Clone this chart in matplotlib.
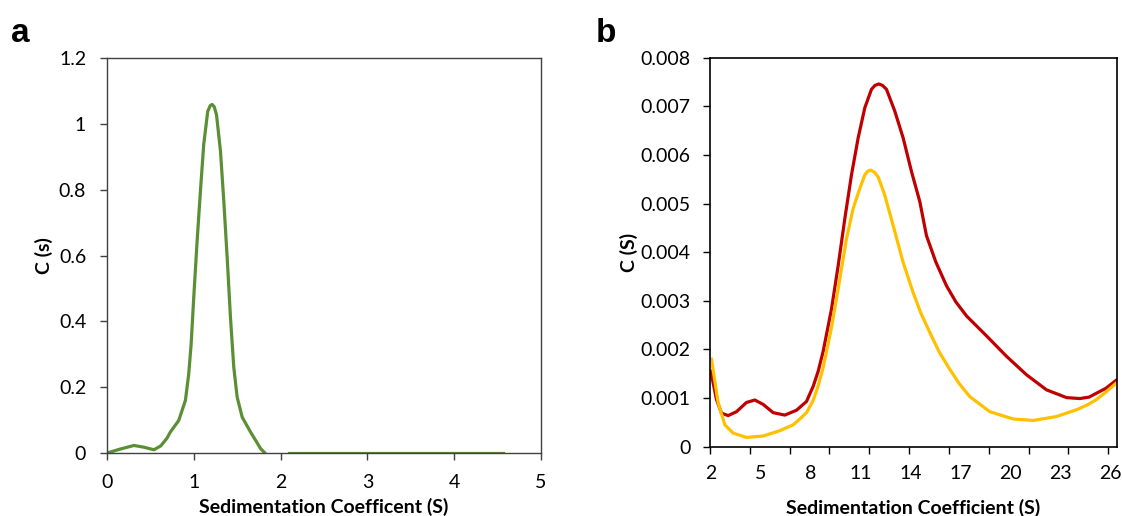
import numpy as np
import matplotlib
matplotlib.use("Agg")
import matplotlib.pyplot as plt
from matplotlib.ticker import FuncFormatter

plt.rcParams['font.family'] = ['Lato', 'DejaVu Sans']

# panel a : single distribution
a_x = [0.0, 0.15, 0.31, 0.42, 0.54, 0.62, 0.69, 0.73, 0.826, 0.903, 0.941, 0.969, 0.999, 1.038,
       1.076, 1.114, 1.16, 1.19, 1.211, 1.235, 1.261, 1.307, 1.345, 1.384, 1.422, 1.46, 1.499,
       1.557, 1.653, 1.72, 1.77, 1.82]
a_y = [0.0, 0.012, 0.023, 0.018, 0.010, 0.022, 0.045, 0.064, 0.099, 0.16, 0.24, 0.331, 0.473, 0.645,
       0.796, 0.938, 1.038, 1.056, 1.059, 1.052, 1.028, 0.917, 0.766, 0.594, 0.412, 0.261, 0.17,
       0.109, 0.064, 0.035, 0.013, 0.0]
a_zero_x = [2.1, 4.56]
a_zero_y = [0.0, 0.0]

# panel b : two distributions
b_red_x = [2.0, 2.34, 2.64, 3.04, 3.54, 4.14, 4.64, 5.14, 5.74, 6.44, 7.14, 7.74, 8.14, 8.44,
           8.74, 9.24, 9.64, 10.04, 10.44, 10.84, 11.24, 11.64, 11.85, 12.08, 12.3, 12.54, 13.04,
           13.54, 14.04, 14.54, 14.94, 15.5, 16.14, 16.7, 17.34, 18.54, 19.74, 20.94, 22.14,
           23.34, 24.14, 24.7, 25.14, 25.7, 26.3]
b_red_y = [0.00155, 0.00097, 0.00069, 0.00064, 0.00072, 0.00091, 0.00096, 0.00087, 0.0007, 0.00065,
           0.00075, 0.00093, 0.00124, 0.00155,
           0.00196, 0.00283, 0.00372, 0.00469, 0.00559, 0.00635, 0.00697, 0.00735, 0.00743, 0.00746,
           0.00743, 0.00735, 0.0069,
           0.00635, 0.00566, 0.00504, 0.00434, 0.0038, 0.00331, 0.00298, 0.00269, 0.00228, 0.00186,
           0.00148, 0.00117, 0.00101, 0.00099, 0.00102, 0.0011, 0.0012, 0.00136]
b_yel_x = [2.04, 2.44, 2.84, 3.34, 4.14, 5.14, 6.14, 6.94, 7.34, 7.74, 8.14, 8.44, 8.74, 9.24,
           9.74, 10.14, 10.54, 10.94, 11.24, 11.4, 11.58, 11.8, 12.04, 12.44, 12.94, 13.54, 14.14,
           14.6, 15.14, 15.7, 16.34, 16.9, 17.54, 18.74, 20.14, 21.34, 22.74, 23.94, 24.6, 25.14,
           25.7, 26.3]
b_yel_y = [0.0018, 0.0009, 0.00045, 0.00028, 0.00019, 0.00022, 0.00033, 0.00045, 0.00057, 0.0007,
           0.00095, 0.00125, 0.00163, 0.00245,
           0.00345, 0.00428, 0.0049, 0.00531, 0.00559, 0.00566, 0.00569, 0.00565, 0.00555, 0.00517,
           0.00455, 0.00379, 0.00317,
           0.00275, 0.00235, 0.00195, 0.00159, 0.0013, 0.00103, 0.00072, 0.00057, 0.00054, 0.00062,
           0.00076, 0.00086, 0.00097, 0.00112, 0.0013]

a_xticks = [0, 1, 2, 3, 4, 5]
a_yticks = [0, 0.2, 0.4, 0.6, 0.8, 1.0, 1.2]
b_xlabels = [2, 5, 8, 11, 14, 17, 20, 23, 26]
b_yticks = [0, 0.001, 0.002, 0.003, 0.004, 0.005, 0.006, 0.007, 0.008]

fig = plt.figure(figsize=(11.22, 5.16), dpi=100)
ax1 = fig.add_axes([0.0954, 0.122, 0.3868, 0.7655])
ax2 = fig.add_axes([0.6328, 0.1343, 0.3624, 0.7539])

tick_fs = 14
lab_fs = 14

# --- a ---
ax1.plot(a_x, a_y, color='#5b8f35', lw=2.3, solid_joinstyle='round', solid_capstyle='round')
ax1.plot(a_zero_x, a_zero_y, color='#5b8f35', lw=2.3)
ax1.set_xlim(0, 5)
ax1.set_ylim(0, 1.2)
ax1.set_xticks(a_xticks)
ax1.set_yticks(a_yticks)
ax1.yaxis.set_major_formatter(FuncFormatter(lambda v, p: '%g' % v))
ax1.tick_params(direction='out', length=5, width=1, labelsize=tick_fs, color='#404040')
ax1.tick_params(axis='y', pad=10)
ax1.tick_params(axis='x', pad=10)
for s in ax1.spines.values():
    s.set_color('#404040')
    s.set_linewidth(1.0)
ax1.set_xlabel('Sedimentation Coefficent (S)', fontsize=lab_fs, fontweight='bold', labelpad=5)
ax1.set_ylabel('C (s)', fontsize=lab_fs, fontweight='bold', labelpad=4)

# --- b ---
ax2.plot(b_red_x, b_red_y, color='#c00000', lw=2.3, solid_joinstyle='round')
ax2.plot(b_yel_x, b_yel_y, color='#ffc000', lw=2.3, solid_joinstyle='round')
ax2.set_xlim(1.95, 26.35)
ax2.set_ylim(0, 0.008)
ax2.set_xticks(b_xlabels)
ax2.set_xticks(np.linspace(1.95, 25.85, 11), minor=True)
ax2.set_yticks(b_yticks)
ax2.yaxis.set_major_formatter(FuncFormatter(lambda v, p: '0' if v == 0 else '%.3f' % v))
ax2.tick_params(axis='y', direction='out', length=5, width=1, labelsize=tick_fs, pad=9)
ax2.tick_params(axis='x', which='major', length=0, labelsize=tick_fs, pad=13)
ax2.tick_params(axis='x', which='minor', direction='out', length=5, width=1)
for s in ax2.spines.values():
    s.set_color('black')
    s.set_linewidth(1.2)
ax2.set_xlabel('Sedimentation Coefficient (S)', fontsize=lab_fs, fontweight='bold', labelpad=12)
ax2.set_ylabel('C (S)', fontsize=lab_fs, fontweight='bold', labelpad=2)

fig.text(0.010, 0.918, 'a', fontsize=24, fontweight='bold', family='Liberation Sans')
fig.text(0.531, 0.918, 'b', fontsize=24, fontweight='bold', family='Liberation Sans')

fig.savefig('out.png', dpi=100)
